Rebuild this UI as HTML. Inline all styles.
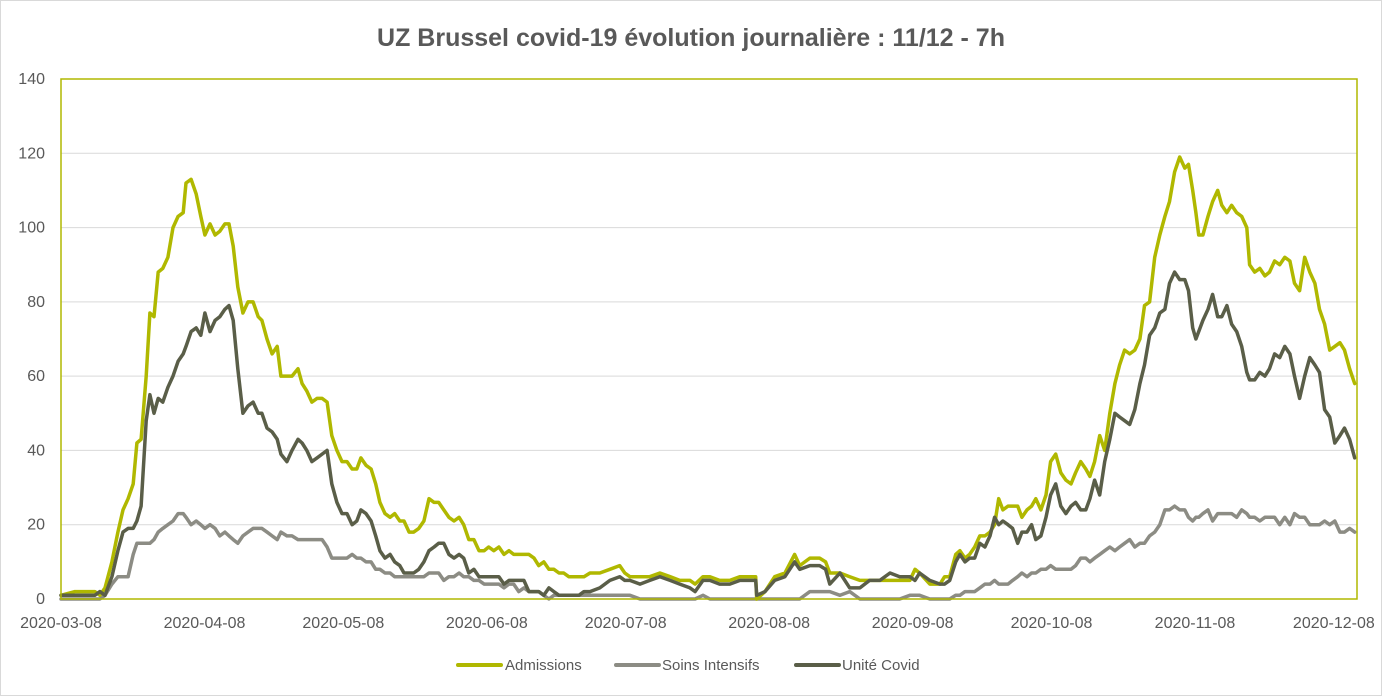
<!DOCTYPE html>
<html><head><meta charset="utf-8"><style>
body{margin:0;background:#fff;}
svg{display:block;font-family:"Liberation Sans",sans-serif;}
</style></head><body>
<svg id="chart" width="1382" height="696" viewBox="0 0 1382 696">
<rect x="0.5" y="0.5" width="1381" height="695" fill="#fff" stroke="#d9d9d9"/>
<text x="691" y="46" text-anchor="middle" font-size="25" font-weight="bold" fill="#595959">UZ Brussel covid-19 évolution journalière : 11/12 - 7h</text>
<g id="grid"></g>
<g id="series"></g>
<rect x="61" y="79" width="1296" height="520" fill="none" stroke="#b0b800" stroke-width="1.5"/>
<g id="axes"></g>
<g>
<g><line x1="458" y1="665" x2="501" y2="665" stroke="#b0b800" stroke-width="4" stroke-linecap="round"/><text x="505" y="670" font-size="15" fill="#595959">Admissions</text></g>
<g><line x1="616" y1="665" x2="659" y2="665" stroke="#8c8c84" stroke-width="4" stroke-linecap="round"/><text x="662" y="670" font-size="15" fill="#595959">Soins Intensifs</text></g>
<g><line x1="796" y1="665" x2="839" y2="665" stroke="#5a5e48" stroke-width="4" stroke-linecap="round"/><text x="842" y="670" font-size="15" fill="#595959">Unité Covid</text></g>
</g>
</svg>
<script>
const days=[0,3,7.3,8.4,9.5,11,12.3,13.4,14.5,15.6,16.4,17.3,18.4,19.2,20.1,21,22,23.1,24.2,25.3,26.4,27,28.1,29.2,30.2,31.1,32.2,33.3,34.3,35.4,36.3,37.2,38.2,39.3,40.4,41.5,42.6,43.4,44.5,45.6,46.7,47.5,48.8,49.9,51.2,52.1,53.1,54.2,55.3,56.4,57.5,58.5,59.6,60.7,61.8,62.9,63.9,64.8,65.9,67,68,68.9,70,71.1,72.1,73.2,74.1,75.2,76.2,77.3,78.4,79.5,80.6,81.6,82.7,83.8,84.9,86,87,88.1,89.2,90.3,91.4,92.4,93.5,94.6,95.7,96.8,97.8,98.9,100,101.1,102.2,103.2,104.3,105.4,106.5,107.6,108.6,109.7,111.9,113,114.3,116.4,118.6,120.7,121.8,122.9,125.1,127.2,129.4,131.6,133.7,135.9,137,138.7,140.2,142.3,144.5,146.7,148.8,150.1,150.3,152.1,154.2,156.4,158.5,159.6,161.8,163.9,165.2,166.1,168.3,170.4,172.6,174.7,176.9,179.1,181.2,183.4,184.5,185.5,187.7,189.9,190.9,192,193.3,194.2,195.3,196.3,197.4,198.5,199.6,200.7,201.7,202.6,203.5,204.6,205.6,206.7,207.6,208.7,209.7,210.6,211.7,212.8,213.8,214.9,216,217.1,218.2,219.2,220.3,221.4,222.3,223.3,224.4,225.5,226.6,227.7,228.7,229.8,230.9,232,233.1,234.1,235.2,236.3,237.4,238.5,239.5,240.6,241.7,242.8,243.6,244.5,245.2,245.8,246.7,247.8,248.8,249.9,250.8,251.9,252.9,254,255.1,256.2,256.8,257.9,259,260.1,261.1,262.2,263.3,264.4,265.5,266.5,267.6,268.7,269.8,270.9,271.9,273,274.1,275.2,276.3,277.3,278.4,279.5];
const admissions=[1,2,2,1,3,10,18,24,27,31,42,43,60,77,76,88,89,92,100,103,104,112,113,109,103,98,101,98,99,101,101,95,84,77,80,80,76,75,70,66,68,60,60,60,62,58,56,53,54,54,53,44,40,37,37,35,35,38,36,35,31,26,23,22,23,21,21,18,18,19,21,27,26,26,24,22,21,22,20,16,16,13,13,14,13,14,12,13,12,12,12,12,11,9,10,8,8,7,7,6,6,6,7,7,8,9,7,6,6,6,7,6,5,5,4,6,6,5,5,6,6,6,0,2,6,7,12,9,11,11,10,7,7,6,5,5,5,5,5,5,8,7,4,4,6,6,12,13,11,12,14,17,17,18,20,27,24,25,25,25,22,24,25,27,24,28,37,39,34,32,31,34,37,35,33,37,44,40,50,58,63,67,66,67,70,79,80,92,98,103,107,115,119,116,117,110,104,98,98,103,107,110,106,104,106,104,103,100,90,88,89,87,88,91,90,92,91,85,83,92,88,85,78,74,67,68,69,67,62,58];
const soinsIntensifs=[0,0,0,0,1,4,6,6,6,12,15,15,15,15,16,18,19,20,21,23,23,22,20,21,20,19,20,19,17,18,17,16,15,17,18,19,19,19,18,17,16,18,17,17,16,16,16,16,16,16,14,11,11,11,11,12,11,11,10,10,8,8,7,7,6,6,6,6,6,6,6,7,7,7,5,6,6,7,6,6,5,5,4,4,4,4,3,4,4,2,3,2,2,2,1,0,1,1,1,1,1,1,1,1,1,1,1,1,0,0,0,0,0,0,0,1,0,0,0,0,0,0,0,0,0,0,0,0,2,2,2,2,1,2,0,0,0,0,0,1,1,1,0,0,0,0,1,1,2,2,2,3,4,4,5,4,4,4,5,6,7,6,7,7,8,8,9,8,8,8,8,9,11,11,10,11,12,13,14,13,14,15,16,14,15,15,17,18,20,24,24,25,24,24,22,21,22,22,23,24,21,23,23,23,23,22,24,23,22,22,21,22,22,22,20,22,20,23,22,22,20,20,20,21,20,21,18,18,19,18];
const uniteCovid=[1,1,1,2,1,6,13,18,19,19,21,25,48,55,50,54,53,57,60,64,66,68,72,73,71,77,72,75,76,78,79,75,62,50,52,53,50,50,46,45,43,39,37,40,43,42,40,37,38,39,40,31,26,23,23,20,21,24,23,21,17,13,11,12,10,9,7,7,7,8,10,13,14,15,15,12,11,12,11,7,8,6,6,6,6,6,4,5,5,5,5,2,2,2,1,3,2,1,1,1,1,2,2,3,5,6,5,5,4,5,6,5,4,3,2,5,5,4,4,5,5,5,1,2,5,6,10,8,9,9,8,4,7,3,3,5,5,7,6,6,5,7,5,4,4,5,10,12,10,11,11,15,14,17,22,20,21,20,19,15,18,18,20,16,17,22,28,31,25,23,25,26,24,24,27,32,28,37,43,50,49,48,47,51,58,63,71,73,77,78,85,88,86,86,83,73,70,72,75,78,82,76,76,79,74,72,68,61,59,59,61,60,62,66,65,68,66,60,54,60,65,63,61,51,49,42,44,46,43,38];
const yTicks=[0,20,40,60,80,100,120,140];
const xTickLabels=["2020-03-08","2020-04-08","2020-05-08","2020-06-08","2020-07-08","2020-08-08","2020-09-08","2020-10-08","2020-11-08","2020-12-08"];
const xTickDays=[0,31,61,92,122,153,184,214,245,275];

const NS="http://www.w3.org/2000/svg";
const X0=61,X1=1357,Y0=599,Y1=79,DMAX=280,VMAX=140;
function xs(d){return X0+d/DMAX*(X1-X0);}
function ys(v){return Y0-v/VMAX*(Y0-Y1);}
const grid=document.getElementById('grid'),axes=document.getElementById('axes'),ser=document.getElementById('series');
yTicks.forEach(t=>{
  if(t>0&&t<VMAX){const l=document.createElementNS(NS,'line');
  l.setAttribute('x1',X0);l.setAttribute('x2',X1);l.setAttribute('y1',ys(t));l.setAttribute('y2',ys(t));
  l.setAttribute('stroke','#d9d9d9');l.setAttribute('stroke-width','1');
  
  
  grid.appendChild(l);}
  const tx=document.createElementNS(NS,'text');
  tx.setAttribute('x',45);tx.setAttribute('y',ys(t)+5);tx.setAttribute('text-anchor','end');
  tx.setAttribute('font-size','16');tx.setAttribute('fill','#595959');tx.textContent=t;
  
  
  axes.appendChild(tx);
});
xTickLabels.forEach((lab,i)=>{
  const tx=document.createElementNS(NS,'text');
  tx.setAttribute('x',xs(xTickDays[i]));tx.setAttribute('y',628);tx.setAttribute('text-anchor','middle');
  tx.setAttribute('font-size','16');tx.setAttribute('fill','#595959');tx.textContent=lab;
  
  
  axes.appendChild(tx);
});
function drawLine(vals,color,name){
  const p=document.createElementNS(NS,'polyline');
  p.setAttribute('points',vals.map((v,i)=>xs(days[i]).toFixed(1)+','+ys(v).toFixed(1)).join(' '));
  p.setAttribute('fill','none');p.setAttribute('stroke',color);p.setAttribute('stroke-width','3.5');
  p.setAttribute('stroke-linejoin','round');p.setAttribute('stroke-linecap','round');
  
  
  ser.appendChild(p);
}
drawLine(soinsIntensifs,'#8c8c84','line-soins-intensifs');
drawLine(admissions,'#b0b800','line-admissions');
drawLine(uniteCovid,'#5a5e48','line-unite-covid');
</script>
</body></html>
